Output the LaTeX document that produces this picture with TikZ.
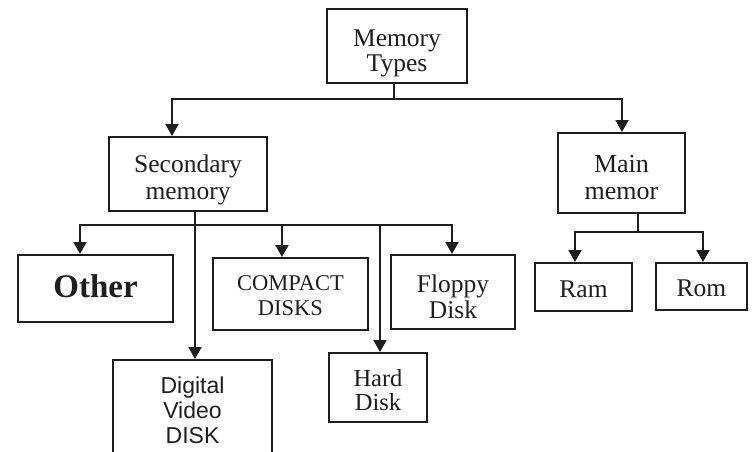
\documentclass[tikz,border=0pt]{standalone}
\usepackage{fontspec}
\setmainfont{Liberation Serif}
\newfontfamily\dvdfont{Liberation Sans}
\usepackage{tikz}
\usetikzlibrary{arrows.meta,positioning,calc}
\definecolor{memink}{HTML}{1E1E1E}
\newcommand{\boxtext}[2]{\raisebox{-#1}[\height][\depth]{\begin{tabular}{@{}c@{}}#2\end{tabular}}}

\begin{document}
\begin{tikzpicture}[
  x=1pt,y=-1pt,
  box/.style={draw=memink,line width=2pt,inner sep=0pt,text=memink,font=\fontsize{25.5}{26}\selectfont},
  line/.style={draw=memink,line width=2pt},
  arrow/.style={line,-{Triangle[length=12pt,width=13pt]}}
]
\useasboundingbox (0,0) rectangle (753,452);
\clip (0,0) rectangle (753,452);
\node[box,minimum width=140pt,minimum height=74pt,font=\fontsize{25.5}{25}\selectfont] (types) at (397,46) {\boxtext{8pt}{Memory\\Types}};
\node[box,minimum width=158pt,minimum height=74pt,font=\fontsize{25.5}{27}\selectfont] (sec) at (188,174) {\boxtext{7pt}{Secondary\\memory}};
\node[box,minimum width=127pt,minimum height=80pt,font=\fontsize{26}{27}\selectfont] (main) at (621.5,173) {\boxtext{8pt}{Main\\memor}};
\node[box,minimum width=155pt,minimum height=67pt,font=\fontsize{33}{35}\selectfont\bfseries] (other) at (95.5,288.5) {\boxtext{2pt}{Other}};
\node[box,minimum width=155pt,minimum height=72pt,font=\fontsize{22.5}{25}\selectfont] (cd) at (290.5,294) {\boxtext{3.5pt}{COMPACT\\DISKS}};
\node[box,minimum width=124pt,minimum height=74pt] (floppy) at (453,292) {\boxtext{8pt}{Floppy\\Disk}};
\node[box,minimum width=97pt,minimum height=48pt] (ram) at (583.5,287) {\boxtext{5pt}{Ram}};
\node[box,minimum width=91pt,minimum height=47pt] (rom) at (701.5,286.5) {\boxtext{5pt}{Rom}};
\node[box,minimum width=159pt,minimum height=97pt,font=\dvdfont\fontsize{23}{25}\selectfont] (dvd) at (192.5,408.5) {\boxtext{5pt}{Digital\\Video\\DISK}};
\node[box,minimum width=98pt,minimum height=69pt,font=\fontsize{24.5}{24}\selectfont] (hard) at (378,387.5) {\boxtext{6pt}{Hard\\Disk}};

\coordinate (tbus) at (394,99);
\coordinate (sbus) at (195,225);
\coordinate (mbus) at (638,232);

\draw[line] (tbus |- types.south) -- (tbus);
\draw[arrow] (tbus) -| ([xshift=-16pt]sec.north);
\draw[arrow] (tbus) -| ([xshift=0.5pt]main.north);

\draw[arrow] (sbus |- sec.south) -- (sbus |- dvd.north);
\draw[arrow] (sbus) -| ([xshift=-15.5pt]other.north);
\draw[arrow] (sbus) -| ([xshift=-1pt]floppy.north);
\draw[arrow] ([xshift=-8.5pt]cd.north |- sbus) -- ([xshift=-8.5pt]cd.north);
\draw[arrow] ([xshift=2pt]hard.north |- sbus) -- ([xshift=2pt]hard.north);

\draw[line] (mbus |- main.south) -- (mbus);
\draw[arrow] (mbus) -| ([xshift=-8.5pt]ram.north);
\draw[arrow] (mbus) -| ([xshift=1.5pt]rom.north);
\end{tikzpicture}
\end{document}
